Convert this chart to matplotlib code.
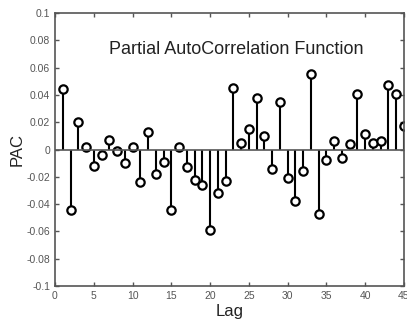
import matplotlib.pyplot as plt
import numpy as np

plt.rcParams['font.family'] = ['Liberation Sans', 'DejaVu Sans']

lags = np.arange(1, 46)
pac = [0.044, -0.044, 0.020, 0.002, -0.012, -0.004, 0.007, -0.001, -0.010, 0.002,
       -0.024, 0.013, -0.018, -0.009, -0.044, 0.002, -0.013, -0.022, -0.026, -0.059,
       -0.032, -0.023, 0.045, 0.005, 0.015, 0.038, 0.010, -0.014, 0.035, -0.021,
       -0.038, -0.016, 0.055, -0.047, -0.008, 0.006, -0.006, 0.004, 0.041, 0.011,
       0.005, 0.006, 0.047, 0.041, 0.017]
xticks = [0, 5, 10, 15, 20, 25, 30, 35, 40, 45]
yticks = [-0.1, -0.08, -0.06, -0.04, -0.02, 0, 0.02, 0.04, 0.06, 0.08, 0.1]
ytick_labels = ['-0.1', '-0.08', '-0.06', '-0.04', '-0.02', '0', '0.02', '0.04', '0.06', '0.08', '0.1']

fig = plt.figure(figsize=(4.07, 3.23), dpi=100)
ax = fig.add_axes([55/407, 1 - 286/323, 349/407, 273/323])

ml, sl, bl = ax.stem(lags, pac, linefmt='k-', markerfmt='ko', basefmt='k-')
plt.setp(ml, markerfacecolor='white', markeredgecolor='black', markersize=6, markeredgewidth=1.6)
plt.setp(sl, linewidth=1.5)
plt.setp(bl, linewidth=1.2, color='#555555')
bl.set_xdata([0, 45])

ax.set_xlim(0, 45)
ax.set_ylim(-0.1, 0.1)
ax.set_xticks(xticks)
ax.set_yticks(yticks)
ax.set_yticklabels(ytick_labels)
ax.tick_params(direction='in', top=True, right=True, length=3, width=1,
               color='#555555', labelcolor='#555555', labelsize=7.5)
for s in ax.spines.values():
    s.set_color('#555555')
    s.set_linewidth(1.2)

# title sits inside the axes, like the MATLAB original
ax.text(0.519, 0.865, 'Partial AutoCorrelation Function', transform=ax.transAxes,
        ha='center', va='center', fontsize=13, color='#222222')
ax.set_xlabel('Lag', fontsize=12, color='#222222', labelpad=2)
ax.set_ylabel('PAC', fontsize=12, color='#222222', labelpad=1)

fig.savefig('out.png', dpi=100)
